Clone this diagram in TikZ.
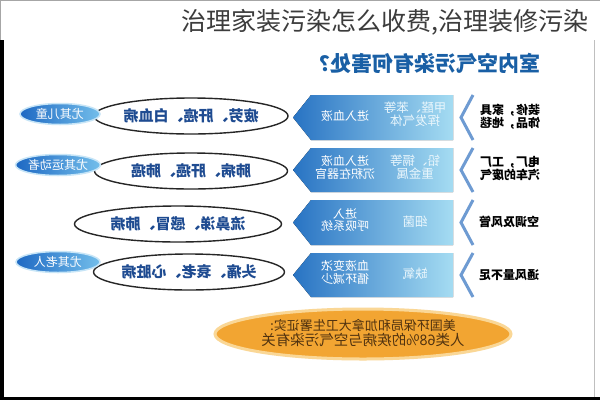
\documentclass[tikz,border=0pt]{standalone}
\usepackage{fontspec}
\usepackage{graphicx}
\usepackage{tikz}
\usetikzlibrary{shapes.geometric}
\setmainfont{Noto Sans CJK SC}

\definecolor{titlegray}{RGB}{60,60,60}
\definecolor{headblue}{RGB}{25,95,165}
\definecolor{illblue}{RGB}{30,75,145}
\definecolor{boxdark}{RGB}{40,115,195}
\definecolor{boxlight}{RGB}{165,220,242}
\definecolor{chevblue}{RGB}{110,155,210}
\definecolor{tagdark}{RGB}{30,105,195}
\definecolor{taglight}{RGB}{115,190,235}
\definecolor{orangefill}{RGB}{242,165,50}
\definecolor{orangeglow}{RGB}{250,215,150}
\definecolor{orangetext}{RGB}{80,50,15}

% text is printed mirrored in the picture
\newcommand{\mir}[1]{\reflectbox{#1}}
\newcommand{\mirtwo}[2]{\reflectbox{\begin{tabular}{@{}c@{}}#1\\[-2pt]#2\end{tabular}}}

\begin{document}
\begin{tikzpicture}[x=1pt,y=-1pt,
	illness/.style={shape=ellipse,draw=black!85,line width=1.4pt,fill=white,minimum width=#1,minimum height=36pt,inner sep=0pt,text=illblue,font=\fontsize{15}{15}\selectfont\bfseries},
	tag/.style={shape=ellipse,left color=tagdark,right color=taglight,draw=taglight!40,line width=1.5pt,minimum width=84pt,minimum height=21pt,inner sep=0pt,text=white,font=\fontsize{12}{12}\selectfont},
	boxshade/.style={left color=boxdark,right color=boxlight},
	intext/.style={text=white,font=\fontsize{12}{14}\selectfont},
	agent/.style={text=white!75!boxlight,font=\fontsize{12.5}{14}\selectfont},
	source/.style={text=black,font=\fontsize{12}{14}\selectfont\bfseries},
	chevron/.style={draw=chevblue,line width=3pt,line join=miter}]

	\clip (0,0) rectangle (600,400);
	\fill[white] (0,0) rectangle (600,400);

	% frame
	\draw[black!35,line width=1pt] (0.5,40) -- (0.5,0.5) -- (599.5,0.5);
	\draw[black!25,line width=0.8pt] (594.5,40) -- (594.5,397);
	\fill[black] (0,40) rectangle (4,400);
	\fill[black] (0,397) rectangle (600,400);

	\node[anchor=west,text=titlegray,font=\fontsize{25}{25}\selectfont,inner sep=0pt] (title) at (181,22) {治理家装污染怎么收费,治理装修污染};
	\node[text=headblue,font=\fontsize{21}{22}\selectfont\bfseries] (head) at (425,63) {\mir{室内空气污染有何害处？}};

	% arrow boxes
	\fill[boxshade] (453,95)  -- (311,95)  -- (293,117.5) -- (311,140) -- (453,140) -- cycle;
	\fill[boxshade] (453,148) -- (311,148) -- (293,170)   -- (311,192) -- (453,192) -- cycle;
	\fill[boxshade] (453,200) -- (311,200) -- (293,222.5) -- (311,245) -- (453,245) -- cycle;
	\fill[boxshade] (453,253) -- (311,253) -- (293,275)   -- (311,297) -- (453,297) -- cycle;

	\node[agent]  (ag1) at (415,116) {\mirtwo{甲醛、苯等}{挥发气体}};
	\node[intext] (in1) at (345,116) {\mir{进入血液}};
	\node[agent]  (ag2) at (415,169) {\mirtwo{铅、镉等}{重金属}};
	\node[intext] (in2) at (345,169) {\mirtwo{进入血液}{沉积在器官}};
	\node[agent]  (ag3) at (415,222) {\mir{细菌}};
	\node[intext] (in3) at (345,222) {\mirtwo{进入}{呼吸系统}};
	\node[agent]  (ag4) at (415,274) {\mir{缺氧}};
	\node[intext] (in4) at (345,274) {\mirtwo{血液变浓}{循环减少}};

	% brackets
	\draw[chevron] (473,95)  -- (461,117.5) -- (473,140);
	\draw[chevron] (473,148) -- (461,170)   -- (473,192);
	\draw[chevron] (473,200) -- (461,222.5) -- (473,245);
	\draw[chevron] (473,253) -- (461,275)   -- (473,297);

	\node[source] (src1) at (510,118) {\mirtwo{装修，家具}{饰品，地毯}};
	\node[source] (src2) at (510,170) {\mirtwo{电厂，工厂}{汽车的废气}};
	\node[source] (src3) at (509,222) {\mir{空调及风管}};
	\node[source] (src4) at (509,275) {\mir{通风量不足}};

	% illnesses
	\node[illness=194] (ill1) at (191,116) {\mir{疲劳、肝癌、白血病}};
	\node[illness=193] (ill2) at (191,171) {\mir{肺病、肝癌、肺癌}};
	\node[illness=207] (ill3) at (178,224) {\mir{流鼻涕、感冒、肺病}};
	\node[illness=188] (ill4) at (189,272) {\mir{头痛、衰老、心脏病}};

	\node[tag,minimum width=80pt] (tag1) at (60,114) {\mir{尤其儿童}};
	\node[tag] (tag2) at (58,165) {\mir{尤其运动者}};
	\node[tag] (tag4) at (58,262) {\mir{尤其老人}};

	% fact
	\node[shape=ellipse,fill=orangefill,draw=orangeglow,line width=3pt,minimum width=296pt,minimum height=50pt,inner sep=0pt,text=orangetext,align=center] (fact) at (363,334)
		{\reflectbox{\begin{tabular}{@{}c@{}}{\fontsize{13}{14}\selectfont 美国环保局和加拿大卫生署证实:}\\[-1pt]{\fontsize{14.5}{15}\selectfont 人类68\%的疾病与空气污染有关}\end{tabular}}};

\end{tikzpicture}
\end{document}
